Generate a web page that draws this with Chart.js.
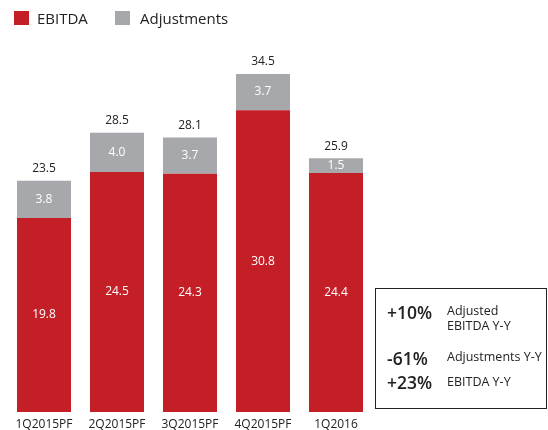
<!DOCTYPE html>
<html>
<head>
<meta charset="utf-8">
<script src="https://cdn.jsdelivr.net/npm/chart.js@4/dist/chart.umd.min.js"></script>
<style>
  body { margin: 0; background: #fff; font-family: "Open Sans", sans-serif; }
  #wrap { position: relative; width: 548px; height: 430px; }
  #chart { position: absolute; left: 0; top: 0; }
  .legend { position: absolute; top: 9px; font-size: 15px; color: #222; line-height: 18px; }
  .legend span.sw { position: absolute; top: 2px; width: 15px; height: 14px; }
  .box { position: absolute; left: 375px; top: 288px; width: 170px; height: 119px; border: 1.5px solid #222; color: #222; }
  .box .big { position: absolute; left: 11px; font-size: 17.5px; font-weight: 600; line-height: 20px; }
  .box .small { position: absolute; left: 71px; font-size: 12.5px; line-height: 15px; }
</style>
</head>
<body>
<div id="wrap">
  <canvas id="chart" width="548" height="430"></canvas>
  <div class="legend" style="left:14px"><span class="sw" style="left:0;background:#c41f26"></span><span style="margin-left:23px">EBITDA</span></div>
  <div class="legend" style="left:115px"><span class="sw" style="left:0;background:#a7a8ab"></span><span style="margin-left:25px">Adjustments</span></div>
  <div class="box">
    <div class="big" style="top:13px">+10%</div>
    <div class="small" style="top:14px">Adjusted<br>EBITDA Y-Y</div>
    <div class="big" style="top:59px">-61%</div>
    <div class="small" style="top:60px">Adjustments Y-Y</div>
    <div class="big" style="top:83px">+23%</div>
    <div class="small" style="top:85px">EBITDA Y-Y</div>
  </div>
</div>
<script>
// Chart data
const categories = ["1Q2015PF", "2Q2015PF", "3Q2015PF", "4Q2015PF", "1Q2016"]
const ebitda = [19.8, 24.5, 24.3, 30.8, 24.4]
const adjustments = [3.8, 4.0, 3.7, 3.7, 1.5]
const totals = [23.5, 28.5, 28.1, 34.5, 25.9]

const RED = "#c41f26"
const GRAY = "#a7a8ab"

// Draw values inside the bars and totals above them
const valueLabels = {
  id: "valueLabels",
  afterDatasetsDraw(chart) {
    const ctx = chart.ctx
    ctx.save()
    ctx.font = "12px 'Open Sans'"
    ctx.textAlign = "center"
    ctx.textBaseline = "middle"
    chart.data.datasets.forEach((ds, i) => {
      const meta = chart.getDatasetMeta(i)
      meta.data.forEach((bar, j) => {
        ctx.fillStyle = "#fff"
        ctx.fillText(ds.data[j].toFixed(1), bar.x, (bar.y + bar.base) / 2)
      })
    })
    const top = chart.getDatasetMeta(chart.data.datasets.length - 1)
    top.data.forEach((bar, j) => {
      ctx.fillStyle = "#222"
      ctx.fillText(totals[j].toFixed(1), bar.x, bar.y - 12)
    })
    ctx.restore()
  },
}

new Chart(document.getElementById("chart"), {
  type: "bar",
  data: {
    labels: categories,
    datasets: [
      { label: "EBITDA", data: ebitda, backgroundColor: RED },
      { label: "Adjustments", data: adjustments, backgroundColor: GRAY },
    ],
  },
  options: {
    responsive: false,
    animation: false,
    layout: { padding: { left: 7.5, right: 175.5, top: 20, bottom: 0 } },
    datasets: { bar: { categoryPercentage: 1, barPercentage: 0.74 } },
    scales: {
      x: {
        stacked: true,
        grid: { display: false, drawTicks: false },
        border: { display: false },
        ticks: { color: "#222", font: { family: "Open Sans", size: 12 }, padding: 5, maxRotation: 0 },
        afterFit: (scale) => { scale.height = 18 },
      },
      y: { stacked: true, display: false, min: 0, max: 40 },
    },
    plugins: {
      legend: { display: false },
      tooltip: { enabled: false },
    },
  },
  plugins: [valueLabels],
})
</script>
</body>
</html>
